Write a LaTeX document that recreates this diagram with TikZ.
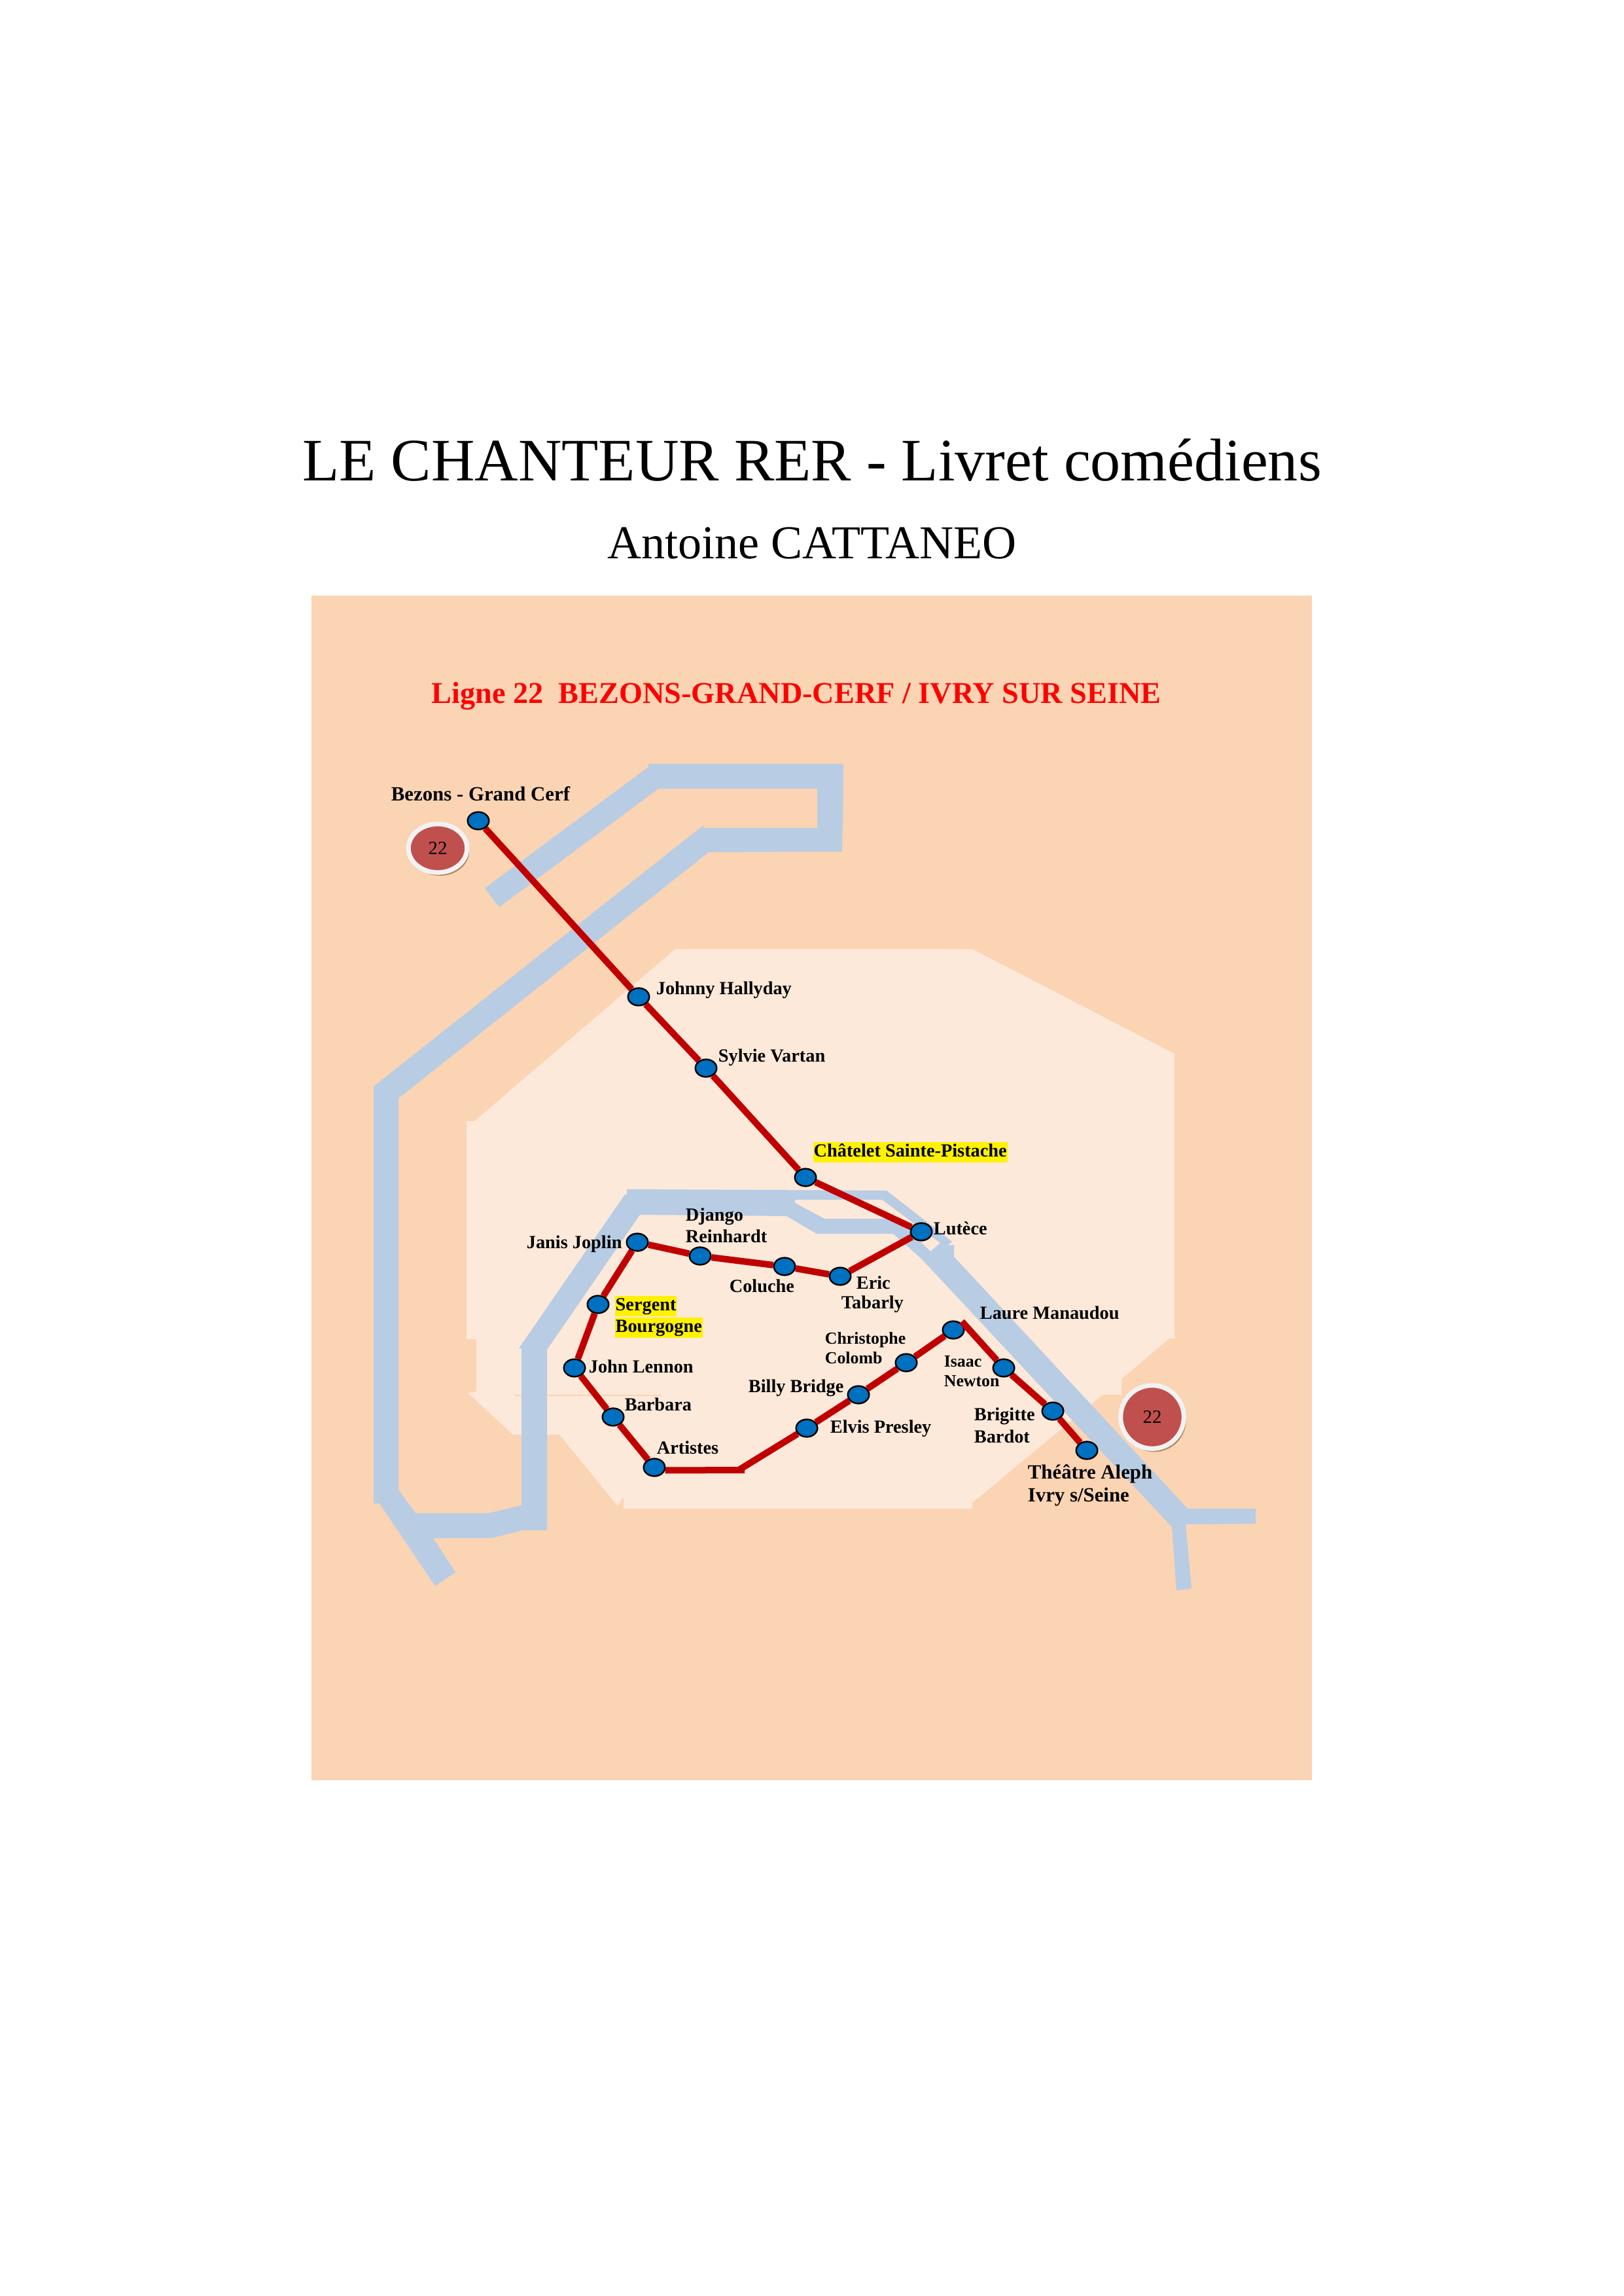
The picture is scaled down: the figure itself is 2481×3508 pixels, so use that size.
\documentclass[tikz,border=0pt]{standalone}
\usepackage{fontspec}
\setmainfont{Liberation Serif}
\usetikzlibrary{shapes.geometric,shadows}
\definecolor{landcol}{HTML}{FBD4B4}
\definecolor{pariscol}{HTML}{FDE9D9}
\definecolor{rivercol}{HTML}{B8CCE4}
\definecolor{linecol}{HTML}{C00000}
\definecolor{stationcol}{HTML}{0070C0}
\definecolor{badgecol}{HTML}{C0504D}
\tikzset{
  station/.style={ellipse, draw, line width=0.6pt, fill=stationcol, inner sep=0pt, minimum width=7.8pt, minimum height=6.4pt},
  railway/.style={linecol, line width=2.4pt},
  stationlabel/.style={anchor=west, inner sep=0pt, align=left, yshift=-0.1pt, font=\fontsize{6.8}{8.1}\selectfont\bfseries},
  smalllabel/.style={stationlabel, font=\fontsize{6.2}{7.2}\selectfont\bfseries},
  biglabel/.style={stationlabel, font=\fontsize{7.4}{8.4}\selectfont\bfseries},
  marked/.style={stationlabel, fill=yellow, inner xsep=0.2pt, text height=5.6pt, text depth=2pt},
  badge/.style={ellipse, draw=white!95!black, line width=1.7pt, fill=badgecol, inner sep=0pt, font=\fontsize{6.9}{8}\selectfont,
    drop shadow={shadow xshift=0.8pt, shadow yshift=-1.2pt, fill=brown!70!black, opacity=0.6}},
}
\begin{document}
\begin{tikzpicture}[x=0.24pt, y=-0.24pt]
\useasboundingbox (0,0) rectangle (2481,3508);

% Titles
\node[font=\fontsize{22.1}{26}\selectfont, anchor=base] (title) at (1241,735) {LE CHANTEUR RER - Livret comédiens};
\node[font=\fontsize{17.3}{21}\selectfont, anchor=base] (author) at (1241,854) {Antoine CATTANEO};

% Land
\fill[landcol] (476,910) rectangle (2005,2720);

% Paris
\fill[pariscol] (713,1713) -- (725,1713) -- (1032,1450) -- (1486,1450) -- (1795,1610) -- (1795,2045) -- (1787,2045)
  -- (1714,2107) -- (1714,2131) -- (1685,2131) -- (1486,2296) -- (1486,2305) -- (953,2305) -- (953,2287) -- (944,2301)
  -- (855,2192) -- (784,2192) -- (715,2128) -- (728,2126) -- (728,2046) -- (713,2046) -- cycle;
\draw[landcol, line width=0.3pt] (787,2132) -- (1011,2132);

% River
\fill[rivercol, even odd rule] (741,1357) -- (991,1172) -- (991,1167) -- (1289,1167) -- (1289,1205) -- (1287,1301) -- (1083,1302)
  -- (609,1678) -- (609,2276) -- (635,2312) -- (746,2312) -- (797,2300) -- (797,2060) -- (793,2060) -- (955,1825) -- (958,1825)
  -- (958,1817) -- (1355,1819) -- (1455,1897) -- (1449,1903) -- (1458,1902) -- (1458,1920) -- (1815,2305) -- (1919,2305)
  -- (1919,2328) -- (1812,2329) -- (1821,2427) -- (1798,2430) -- (1791,2333) -- (1408,1923) -- (1365,1885) -- (1248,1885)
  -- (1202,1858) -- (978,1856) -- (836,2062) -- (836,2338) -- (799,2338) -- (751,2350) -- (662,2350) -- (696,2402) -- (665,2423)
  -- (580,2297) -- (571,2297) -- (571,1660) -- (1075,1261) -- (1075,1265) -- (1249,1265) -- (1249,1205) -- (1006,1205) -- (763,1386) -- cycle
  (1215,1833) -- (1348,1833) -- (1437,1899) -- (1422,1912) -- (1370,1862) -- (1260,1862) -- (1215,1838) -- cycle;

% Line title
\node[font=\fontsize{11.1}{14}\selectfont\bfseries, text=red, anchor=base west, inner sep=0pt] (linetitle) at (659,1074) {Ligne 22\ \ BEZONS-GRAND-CERF / IVRY SUR SEINE};

% Stations
\node[station] (bezons) at (731,1254) {};
\node[station] (johnny) at (976,1523) {};
\node[station] (sylvie) at (1079,1632) {};
\node[station] (chatelet) at (1231,1799) {};
\node[station] (lutece) at (1408,1882) {};
\node[station] (eric) at (1284,1950) {};
\node[station] (coluche) at (1199,1935) {};
\node[station] (django) at (1070,1919) {};
\node[station] (janis) at (974,1898) {};
\node[station] (sergent) at (914,1993) {};
\node[station] (lennon) at (878,2090) {};
\node[station] (barbara) at (937,2165) {};
\node[station] (artistes) at (1000,2242) {};
\coordinate (bend) at (1129,2246);
\coordinate (bendtip) at (1138,2246);
\node[station] (elvis) at (1233,2182) {};
\node[station] (billy) at (1312,2131) {};
\node[station] (colomb) at (1385,2082) {};
\node[station] (laure) at (1457,2032) {};
\coordinate (corner) at (1470,2019);
\node[station] (isaac) at (1534,2090) {};
\node[station] (brigitte) at (1609,2156) {};
\node[station] (theatre) at (1661,2216) {};

% Connections
\draw[railway] (bezons) -- (johnny);
\draw[railway] (johnny) -- (sylvie);
\draw[railway] (sylvie) -- (chatelet);
\draw[railway] (chatelet) -- (lutece);
\draw[railway] (lutece) -- (eric);
\draw[railway] (eric) -- (coluche);
\draw[railway] (coluche) -- (django);
\draw[railway] (django) -- (janis);
\draw[railway] (janis) -- (sergent);
\draw[railway] (sergent) -- (lennon);
\draw[railway] (lennon) -- (barbara);
\draw[railway] (barbara) -- (artistes);
\draw[railway] (artistes.-15) -- (bendtip);
\draw[railway] (bend) -- (elvis);
\draw[railway] (elvis) -- (billy);
\draw[railway] (billy) -- (colomb);
\draw[railway] (colomb) -- (laure);
\draw[railway] (corner) -- (isaac);
\draw[railway] (isaac) -- (brigitte);
\draw[railway] (brigitte) -- (theatre);

% Labels
\node[biglabel] (lbezons) at (597,1212) {Bezons - Grand Cerf};
\node[stationlabel] (ljohnny) at (1002,1512) {Johnny Hallyday};
\node[stationlabel] (lsylvie) at (1097,1615) {Sylvie Vartan};
\node[marked] (lchatelet) at (1242,1760) {Châtelet Sainte-Pistache};
\node[stationlabel] (llutece) at (1426,1876) {Lutèce};
\node[stationlabel] (ldjango) at (1047,1872) {Django\\Reinhardt};
\node[stationlabel] (ljanis) at (804,1900) {Janis Joplin};
\node[stationlabel] (lcoluche) at (1114,1964) {Coluche};
\node[stationlabel] (leric) at (1308,1959) {Eric};
\node[stationlabel] (ltabarly) at (1285,1992) {Tabarly};
\node[marked] (lsergent) at (939,1995) {Sergent};
\node[marked] (lbourgogne) at (939,2028) {Bourgogne};
\node[stationlabel] (llennon) at (899,2087) {John Lennon};
\node[stationlabel] (lbarbara) at (954,2145) {Barbara};
\node[stationlabel] (lartistes) at (1003,2211) {Artistes};
\node[stationlabel] (lbilly) at (1143,2120) {Billy Bridge};
\node[stationlabel] (lelvis) at (1268,2182) {Elvis Presley};
\node[smalllabel] (lcolomb) at (1260,2059) {Christophe\\Colomb};
\node[stationlabel] (llaure) at (1497,2005) {Laure Manaudou};
\node[smalllabel] (lisaac) at (1442,2095) {Isaac\\Newton};
\node[stationlabel] (lbrigitte) at (1488,2177) {Brigitte\\Bardot};
\node[biglabel] (ltheatre) at (1570,2269) {Théâtre Aleph\\Ivry s/Seine};

% Line badges
\node[badge, minimum width=21.5pt, minimum height=17.8pt] (badgestart) at (669,1296) {22};
\node[badge, minimum width=23.2pt, minimum height=23.2pt] (badgeend) at (1761,2165) {22};
\end{tikzpicture}
\end{document}
